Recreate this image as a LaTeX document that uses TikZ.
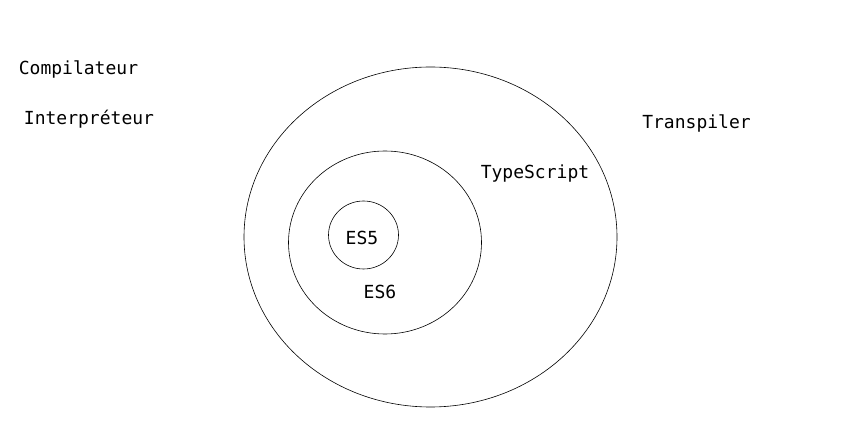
\documentclass[tikz,border=0pt]{standalone}
\usepackage{fontspec}
\setmonofont{DejaVu Sans Mono}
\usetikzlibrary{positioning,
        shapes.geometric}

\begin{document}
\begin{tikzpicture}[x=1pt,y=-1pt,
        ens/.style={ellipse,draw,line width=0.6pt,inner sep=0pt},
        mot/.style={anchor=base,font=\ttfamily\fontsize{18}{20}\selectfont}]
            \useasboundingbox (0,0) rectangle (863,438);

            \node [ens,minimum width=373pt,minimum height=340pt] (transpiler) at (430.5, 237) {};
            \node [ens,minimum width=193pt,minimum height=183pt] (es6) at (385, 242.5) {};
            \node [ens,minimum width=70pt,minimum height=68pt] (es5) at (363.5, 235) {};

            \node [mot] (comp) at (78.5, 75) {Compilateur};
            \node [mot] (interp) at (89, 125) {Interpréteur};
            \node [mot] (trans) at (696.5, 129) {Transpiler};
            \node [mot] (ts) at (535, 179) {TypeScript};
            \node [mot] (l5) at (362, 245) {ES5};
            \node [mot] (l6) at (380, 299) {ES6};
        \end{tikzpicture}
\end{document}
